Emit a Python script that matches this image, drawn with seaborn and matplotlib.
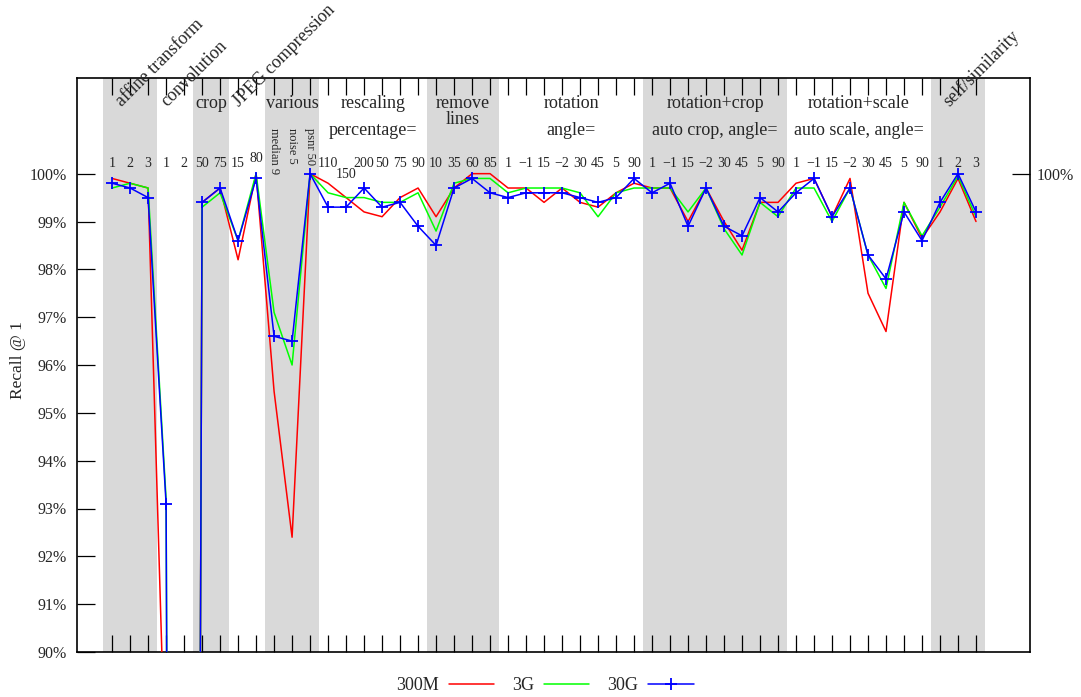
import numpy as np
import pandas as pd
import matplotlib
matplotlib.use("Agg")
import matplotlib.pyplot as plt
import matplotlib.transforms as mtransforms
from matplotlib.lines import Line2D
import seaborn as sns

# ---------------- data ----------------
group_names = ["affine transform", "convolution", "crop", "JPEG compression", "various",
               "rescaling", "remove lines", "rotation", "rotation+crop", "rotation+scale",
               "self/similarity"]
group_sublabels = ["", "", "", "", "", "percentage=", "", "angle=", "auto crop, angle=",
                   "auto scale, angle=", ""]
group_sizes = [3, 2, 2, 2, 3, 6, 4, 8, 8, 8, 3]
diagonal_groups = ["affine transform", "convolution", "JPEG compression", "self/similarity"]

point_labels = ["1", "2", "3",
                "1", "2",
                "50", "75",
                "15", "80",
                "median 9", "noise 5", "psnr 50",
                "110", "150", "200", "50", "75", "90",
                "10", "35", "60", "85",
                "1", "\u22121", "15", "\u22122", "30", "45", "5", "90",
                "1", "\u22121", "15", "\u22122", "30", "45", "5", "90",
                "1", "\u22121", "15", "\u22122", "30", "45", "5", "90",
                "1", "2", "3"]
vertical_labels = ["median 9", "noise 5", "psnr 50"]

recall_300M = [99.9, 99.8, 99.7,
               87.0, 0.0,
               99.4, 99.7,
               98.2, 100.0,
               95.45, 92.4, 100.0,
               99.8, 99.5, 99.2, 99.1, 99.5, 99.7,
               99.1, 99.7, 100.0, 100.0,
               99.7, 99.7, 99.4, 99.7, 99.4, 99.3, 99.6, 99.8,
               99.7, 99.7, 99.0, 99.7, 99.0, 98.4, 99.4, 99.4,
               99.8, 99.9, 99.1, 99.9, 97.5, 96.7, 99.4, 98.65,
               99.2, 99.9, 99.0]
recall_3G = [99.7, 99.8, 99.7,
             93.2, 0.0,
             99.3, 99.6,
             98.6, 100.0,
             97.1, 96.0, 100.0,
             99.6, 99.5, 99.5, 99.4, 99.4, 99.6,
             98.8, 99.8, 99.9, 99.9,
             99.6, 99.7, 99.7, 99.7, 99.6, 99.1, 99.6, 99.7,
             99.7, 99.7, 99.2, 99.7, 98.85, 98.3, 99.4, 99.1,
             99.7, 99.7, 99.0, 99.7, 98.3, 97.6, 99.4, 98.7,
             99.3, 99.95, 99.1]
recall_30G = [99.8, 99.7, 99.5,
              93.1, 0.0,
              99.4, 99.7,
              98.6, 99.9,
              96.6, 96.5, 100.0,
              99.3, 99.3, 99.7, 99.3, 99.4, 98.9,
              98.5, 99.7, 99.9, 99.6,
              99.5, 99.6, 99.6, 99.6, 99.5, 99.4, 99.5, 99.9,
              99.6, 99.8, 98.9, 99.7, 98.9, 98.7, 99.5, 99.2,
              99.6, 99.9, 99.1, 99.7, 98.3, 97.8, 99.2, 98.6,
              99.4, 100.0, 99.2]
series_names = ["300M", "3G", "30G"]
y_ticks = [90, 91, 92, 93, 94, 95, 96, 97, 98, 99, 100]

# ---------------- style ----------------
sns.set_theme(style="white")
plt.rcParams["font.family"] = ["Liberation Serif", "DejaVu Serif"]
plt.rcParams["axes.unicode_minus"] = True

W, H = 1081, 697
fig = plt.figure(figsize=(W / 100, H / 100), dpi=100)
ax_l, ax_r, ax_t, ax_b = 77, 1030, 78, 652
ax = fig.add_axes([ax_l / W, 1 - ax_b / H, (ax_r - ax_l) / W, (ax_b - ax_t) / H])

n = len(point_labels)
pos = np.arange(n)
df = pd.DataFrame({
    "pos": np.tile(pos, 3),
    "recall": recall_300M + recall_3G + recall_30G,
    "model": np.repeat(series_names, n),
})
colors = {"300M": "#ff0000", "3G": "#00ff00", "30G": "#0000ff"}

ax.set_xlim(-1.95, n - 1 + 3)
ax.set_ylim(90, 102)

# shaded groups
starts = np.cumsum([0] + group_sizes[:-1])
for gi, (s, sz) in enumerate(zip(starts, group_sizes)):
    if gi % 2 == 0:
        ax.axvspan(s - 0.5, s + sz - 0.5, color="#d9d9d9", lw=0, zorder=0)

for name in series_names:
    sub = df[df.model == name]
    if name == "30G":
        kw = dict(marker="+", markersize=8, markeredgewidth=1.3,
                  markeredgecolor=colors[name], markerfacecolor=colors[name])
    else:
        kw = {}
    sns.lineplot(data=sub, x="pos", y="recall", color=colors[name], lw=1.1, ax=ax,
                 legend=False, zorder=3, **kw)

ax.set_xlabel("")
ax.set_ylabel("")

# ticks
ax.set_xticks(pos)
ax.tick_params(axis="x", direction="in", top=True, bottom=True, length=12, width=0.9,
               labelbottom=False, labeltop=False, color="black")
ax.set_yticks(y_ticks)
ax.set_yticklabels([f"{v}%" for v in y_ticks])
ax.tick_params(axis="y", direction="in", left=True, right=False, length=13, width=0.9,
               labelsize=11.5, pad=7.5, color="black")
for sp in ax.spines.values():
    sp.set_color("black")
    sp.set_linewidth(1.2)

ax2 = ax.twinx()
ax2.set_ylim(90, 102)
ax2.set_yticks([100])
ax2.set_yticklabels(["100%"])
ax2.tick_params(axis="y", direction="in", right=True, length=13, width=0.9,
                labelsize=11.5, pad=5, color="black")
ax2.grid(False)
for sp in ax2.spines.values():
    sp.set_visible(False)

trans = mtransforms.blended_transform_factory(ax.transData, ax.transAxes)
def ay(px):
    return (ax_b - px) / (ax_b - ax_t)

# group labels
for gi, (s, sz) in enumerate(zip(starts, group_sizes)):
    center = s + (sz - 1) / 2
    name = group_names[gi]
    if name in diagonal_groups:
        ax.text(center - 0.45, ay(107), name, transform=trans, rotation=45,
                rotation_mode="anchor", ha="left", va="baseline", fontsize=13,
                clip_on=False, zorder=5)
    elif name == "remove lines":
        ax.text(center, ay(107.5), "remove", transform=trans, ha="center", va="baseline",
                fontsize=13)
        ax.text(center, ay(124), "lines", transform=trans, ha="center", va="baseline",
                fontsize=13)
    else:
        ax.text(center, ay(108), name, transform=trans, ha="center", va="baseline",
                fontsize=13)
    if group_sublabels[gi]:
        ax.text(center, ay(135), group_sublabels[gi], transform=trans, ha="center",
                va="baseline", fontsize=13)

# point labels
for i, lab in enumerate(point_labels):
    if lab in vertical_labels:
        ax.text(i, ay(128), lab, transform=trans, rotation=-90, rotation_mode="anchor",
                ha="left", va="center", fontsize=9)
    else:
        yb = 167
        if i == 8:
            yb = 162.5
        elif i == 13:
            yb = 178
        ax.text(i, ay(yb), lab, transform=trans, ha="center", va="baseline", fontsize=10)

fig.text(18 / W, 1 - 360 / H, "Recall @ 1", rotation=90, ha="center", va="center",
         fontsize=12.5)

handles = [Line2D([], [], color=colors["300M"], lw=1.1),
           Line2D([], [], color=colors["3G"], lw=1.1),
           Line2D([], [], color=colors["30G"], lw=1.1, marker="+", markersize=8,
                  markeredgewidth=1.3)]
fig.legend(handles, series_names, loc="center", bbox_to_anchor=(545 / W, 1 - 686 / H),
           ncol=3, frameon=False, markerfirst=False, fontsize=13, handlelength=2.5,
           handletextpad=0.55, columnspacing=1.0, borderaxespad=0, borderpad=0)

fig.savefig("out.png", dpi=100)
